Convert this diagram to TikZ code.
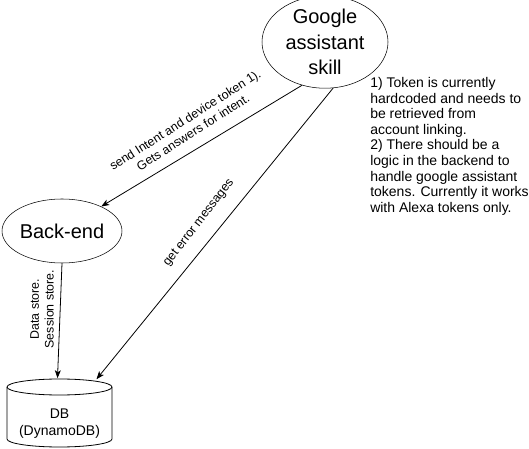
\documentclass[tikz,border=0pt]{standalone}
\usepackage{fontspec}
\setmainfont{Liberation Sans}
\usetikzlibrary{arrows.meta,shapes.geometric,calc}
\begin{document}
\begin{tikzpicture}[x=0.75pt,y=-0.75pt,
  ell/.style={draw,ellipse,inner sep=0pt,align=center,font=\fontsize{15}{19}\selectfont},
  conn/.style={-{Stealth[length=6pt,width=4.5pt,inset=1.5pt]},line width=0.6pt},
  elabel/.style={align=center,inner sep=0pt,font=\fontsize{9.3}{11}\selectfont},
  note/.style={align=left,inner sep=0pt,anchor=north west,font=\fontsize{10.5}{11.7}\selectfont}]
\useasboundingbox (0,0) rectangle (529,449);
\node[ell,minimum width=94.5pt,minimum height=63pt] (g) at (325,42) {Google\\assistant\\skill};
\node[ell,minimum width=90pt,minimum height=48pt] (be) at (62,231) {Back-end};
% database cylinder
\node[inner sep=0pt,minimum width=78.75pt,minimum height=51.75pt] (db) at (59.5,413) {};
\draw[line width=0.6pt] (7,387) -- (7,439) arc[start angle=180,end angle=0,x radius=52.5,y radius=8] -- (112,387);
\draw[line width=0.6pt] (59.5,387) ellipse[x radius=52.5,y radius=8];
\node[align=center,inner sep=0pt,font=\fontsize{10.5}{12.6}\selectfont] (dbt) at (59.5,424) {DB\\(DynamoDB)};
% connectors
\draw[conn] (g.-118) -- (be.32);
\draw[conn] (g.-80) -- ([shift={(37,1)}]db.north);
\draw[conn] (be.south) -- ([shift={(-2,0)}]db.north);
% labels
\node[elabel,rotate=32.5] (l1) at (189,126) {send Intent and device token 1).\\Gets answers for intent.};
\node[elabel,rotate=52.2] (l2) at (199,223) {get error messages};
\node[elabel,rotate=90] (l3) at (42,309) {Data store.\\Session store.};
\node[note] (n) at (370,77) {1) Token is currently\\hardcoded and needs to\\be retrieved from\\account linking.\\2) There should be a\\logic in the backend to\\handle google assistant\\tokens. Currently it works\\with Alexa tokens only.};
\end{tikzpicture}
\end{document}
